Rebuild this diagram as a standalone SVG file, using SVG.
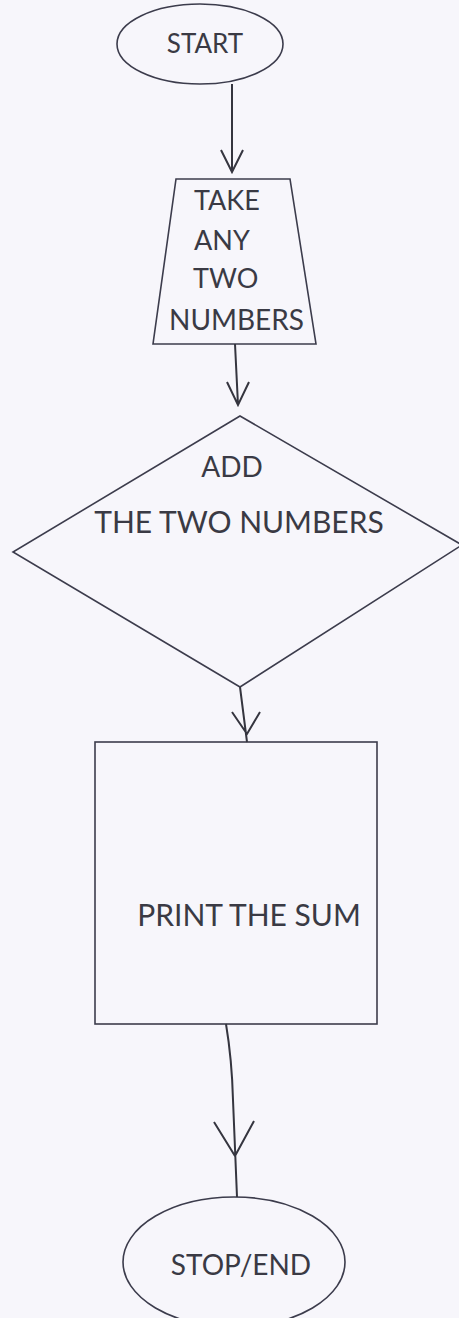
<svg xmlns="http://www.w3.org/2000/svg" width="459" height="1318" viewBox="0 0 459 1318">
<style>
.shape{fill:none;stroke:#3c3c4c;stroke-width:1.6}
.conn{fill:none;stroke:#35353f;stroke-width:2}
.lbl{font-family:Lato,"Liberation Sans",sans-serif;fill:#3a3a44;text-anchor:middle}
.ls{text-anchor:start}
</style>
<rect width="459" height="1318" fill="#f7f6fb"/>
<g id="start">
<ellipse class="shape" cx="200" cy="44" rx="83" ry="40"/>
<text class="lbl" x="205" y="53" font-size="26">START</text>
</g>
<g id="input">
<polygon class="shape" points="176,179 290,179 316,344 153,344"/>
<text class="lbl ls" x="194" y="210" font-size="27">TAKE</text>
<text class="lbl ls" x="194" y="250" font-size="27">ANY</text>
<text class="lbl ls" x="193" y="288" font-size="27">TWO</text>
<text class="lbl ls" x="169" y="330" font-size="28">NUMBERS</text>
</g>
<g id="process">
<polygon class="shape" points="240,416 462,545 240,687 13,552"/>
<text class="lbl" x="232" y="477" font-size="28">ADD</text>
<text class="lbl" x="239" y="533" font-size="30">THE TWO NUMBERS</text>
</g>
<g id="output">
<rect class="shape" x="95" y="742" width="282" height="282"/>
<text class="lbl" x="249" y="926" font-size="30">PRINT THE SUM</text>
</g>
<g id="end">
<ellipse class="shape" cx="234" cy="1262" rx="111" ry="65"/>
<text class="lbl" x="241" y="1275" font-size="28">STOP/END</text>
</g>
<g id="connectors">
<path class="conn" d="M232,84 L232,172 M221,150 L232,172 L243,150"/>
<path class="conn" d="M235,344 L238,405 M227,382 L238,405 L249,382"/>
<path class="conn" d="M240,687 L247,742 M232,712 L247,734 L260,712"/>
<path class="conn" d="M226,1024 Q232,1060 233,1100 L237,1197 M214,1122 L235,1156 L254,1121"/>
</g>
</svg>
